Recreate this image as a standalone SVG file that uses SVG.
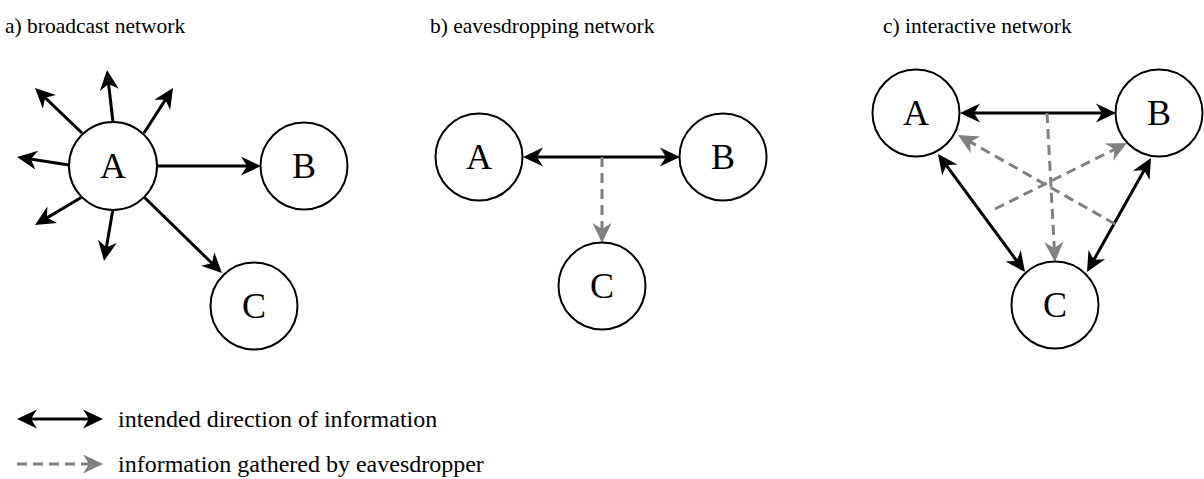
<svg xmlns="http://www.w3.org/2000/svg" width="1204" height="479" viewBox="0 0 1204 479">
<style>
.title{font-size:21.5px}
.lbl{font-size:36px;text-anchor:middle}
.leg{font-size:24px}
circle{fill:#fff;stroke:#000;stroke-width:2}
.e{stroke:#000;stroke-width:3;fill:none}
.g{stroke:#808080;stroke-width:3;fill:none;stroke-dasharray:10 6}
.hk{fill:#000}
.hg{fill:#808080}
</style>
<defs>
<path id="head" d="M0,0 L-20,-9.5 L-14,0 L-20,9.5 z"/>
</defs>
<g id="titles" font-family="Liberation Serif, Times New Roman, serif" fill="#000">
<text class="title" x="5" y="33">a) broadcast network</text>
<text class="title" x="430" y="33">b) eavesdropping network</text>
<text class="title" x="883" y="33">c) interactive network</text>
</g>
<g id="connectors">
<line class="e" x1="113" y1="122" x2="108.1" y2="79.9"/>
<use href="#head" class="hk" transform="translate(107,70) rotate(-96.6)"/>
<line class="e" x1="82" y1="133" x2="42.2" y2="94.9"/>
<use href="#head" class="hk" transform="translate(35,88) rotate(-136.2)"/>
<line class="e" x1="144" y1="133" x2="167.6" y2="96.4"/>
<use href="#head" class="hk" transform="translate(173,88) rotate(-57.2)"/>
<line class="e" x1="69" y1="165" x2="26.9" y2="158.5"/>
<use href="#head" class="hk" transform="translate(17,157) rotate(-171.3)"/>
<line class="e" x1="82" y1="197" x2="43.6" y2="219.9"/>
<use href="#head" class="hk" transform="translate(35,225) rotate(149.2)"/>
<line class="e" x1="113" y1="209" x2="105.7" y2="251.2"/>
<use href="#head" class="hk" transform="translate(104,261) rotate(99.8)"/>
<line class="e" x1="157" y1="166" x2="251" y2="166"/>
<use href="#head" class="hk" transform="translate(261,166)"/>
<line class="e" x1="144" y1="197" x2="214.8" y2="266"/>
<use href="#head" class="hk" transform="translate(222,273) rotate(44.3)"/>

<line class="e" x1="533" y1="157" x2="670" y2="157"/>
<use href="#head" class="hk" transform="translate(680,157)"/>
<use href="#head" class="hk" transform="translate(523,157) rotate(180)"/>
<line class="g" x1="602" y1="157" x2="602" y2="233"/>
<use href="#head" class="hg" transform="translate(602,243) rotate(90)"/>

<line class="e" x1="970" y1="113" x2="1106" y2="113"/>
<use href="#head" class="hk" transform="translate(1116,113)"/>
<use href="#head" class="hk" transform="translate(960,113) rotate(180)"/>
<line class="e" x1="943.9" y1="162.1" x2="1019.1" y2="264"/>
<use href="#head" class="hk" transform="translate(1025,272) rotate(53.6)"/>
<use href="#head" class="hk" transform="translate(938,154) rotate(-126.4)"/>
<line class="e" x1="1146.1" y1="166.7" x2="1091.9" y2="263.3"/>
<use href="#head" class="hk" transform="translate(1087,272) rotate(119.3)"/>
<use href="#head" class="hk" transform="translate(1151,158) rotate(-60.7)"/>
<line class="g" x1="1047" y1="113" x2="1054.5" y2="252"/>
<use href="#head" class="hg" transform="translate(1055,262) rotate(86.9)"/>
<line class="g" x1="995" y1="209" x2="1118.1" y2="147.5"/>
<use href="#head" class="hg" transform="translate(1127,143) rotate(-26.6)"/>
<line class="g" x1="1115" y1="224" x2="966.7" y2="139.9"/>
<use href="#head" class="hg" transform="translate(958,135) rotate(-150.4)"/>
</g>
<g font-family="Liberation Serif, Times New Roman, serif" fill="#000">
<g id="a-A"><circle cx="113" cy="166" r="44"/><text class="lbl" x="113" y="178">A</text></g>
<g id="a-B"><circle cx="304" cy="166" r="43.5"/><text class="lbl" x="304" y="178">B</text></g>
<g id="a-C"><circle cx="254" cy="306" r="43.5"/><text class="lbl" x="254" y="318">C</text></g>
<g id="b-A"><circle cx="479" cy="157" r="43.5"/><text class="lbl" x="479" y="169">A</text></g>
<g id="b-B"><circle cx="723" cy="157" r="43.5"/><text class="lbl" x="723" y="169">B</text></g>
<g id="b-C"><circle cx="602" cy="286" r="43.5"/><text class="lbl" x="602" y="298">C</text></g>
<g id="c-A"><circle cx="916" cy="113" r="43.5"/><text class="lbl" x="916" y="125">A</text></g>
<g id="c-B"><circle cx="1159" cy="113" r="43.5"/><text class="lbl" x="1159" y="125">B</text></g>
<g id="c-C"><circle cx="1055" cy="305" r="43.5"/><text class="lbl" x="1055" y="317">C</text></g>
</g>
<g id="legend" font-family="Liberation Serif, Times New Roman, serif" fill="#000">
<line class="e" x1="27" y1="419" x2="93" y2="419"/>
<use href="#head" class="hk" transform="translate(103,419)"/>
<use href="#head" class="hk" transform="translate(17,419) rotate(180)"/>
<text class="leg" x="118" y="427">intended direction of information</text>
<line class="g" x1="17" y1="464" x2="91" y2="464"/>
<use href="#head" class="hg" transform="translate(103,464)"/>
<text class="leg" x="118" y="472">information gathered by eavesdropper</text>
</g>
</svg>
